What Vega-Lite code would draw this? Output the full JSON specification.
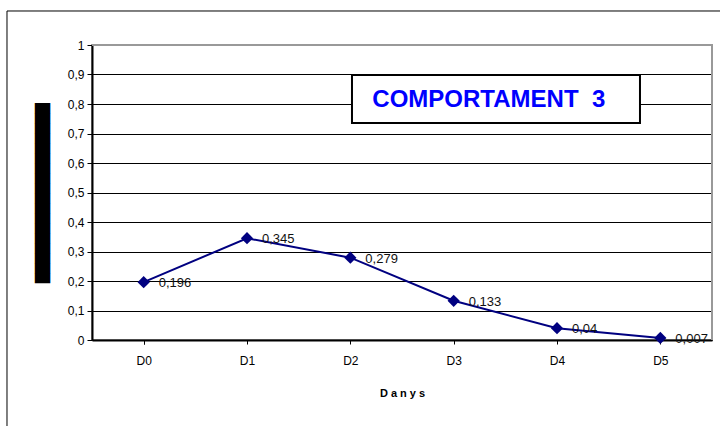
{
  "$schema": "https://vega.github.io/schema/vega-lite/v6.json",
  "width": 620,
  "height": 295,
  "autosize": {"type": "none"},
  "padding": {"left": 92, "top": 45, "right": 8, "bottom": 86},
  "background": "white",
  "config": {
    "view": {"stroke": "#999", "strokeWidth": 2},
    "font": "Liberation Sans",
    "axisY": {
      "tickCount": 10,
      "labelExpr": "replace(format(datum.value, '~g'), '.', ',')",
      "labelFont": "Liberation Sans",
      "labelFontSize": 12,
      "labelColor": "#000",
      "labelPadding": 3,
      "labelOverlap": false,
      "tickSize": 5,
      "tickColor": "#000",
      "domainColor": "#000",
      "domainWidth": 2,
      "grid": true,
      "gridColor": "#000",
      "gridOpacity": 1,
      "gridWidth": 1,
      "titleFont": "DejaVu Sans",
      "titleFontSize": 13,
      "titleFontWeight": "normal",
      "titleColor": "#000",
      "titlePadding": 18
    },
    "axisX": {
      "titleFont": "Liberation Sans",
      "titleFontSize": 11,
      "titleFontWeight": "bold",
      "titleColor": "#000",
      "titlePadding": 21,
      "labelAngle": 0,
      "labelFont": "Liberation Sans",
      "labelFontSize": 12,
      "labelColor": "#000",
      "labelPadding": 11,
      "domainColor": "#000",
      "domainWidth": 2,
      "tickColor": "#000",
      "tickSize": 4,
      "tickBand": "extent",
      "grid": false
    }
  },
  "datasets": {
    "series": [
      {"day": "D0", "value": 0.196, "label": "0,196"},
      {"day": "D1", "value": 0.345, "label": "0,345"},
      {"day": "D2", "value": 0.279, "label": "0,279"},
      {"day": "D3", "value": 0.133, "label": "0,133"},
      {"day": "D4", "value": 0.04, "label": "0,04"},
      {"day": "D5", "value": 0.007, "label": "0,007"}
    ],
    "frame": [
      {"x0": -0.8226, "x1": 6.3, "y0": -0.45, "y1": 1.1153}
    ],
    "border": [
      {"xa": 0, "xb": 6, "ya": 1, "yb": 1},
      {"xa": 6, "xb": 6, "ya": 0, "yb": 1}
    ],
    "titlebox": [
      {"x0": 2.516, "x1": 5.303, "y0": 0.7356, "y1": 0.898, "tx": 3.84, "ty": 0.815, "text": "COMPORTAMENT\u00a0 3"}
    ]
  },
  "layer": [
    {
      "data": {"name": "frame"},
      "mark": {"type": "rect", "fill": null, "stroke": "#000", "strokeWidth": 1, "clip": false},
      "encoding": {
        "x": {"field": "x0", "type": "quantitative", "scale": {"domain": [0, 6], "zero": false, "nice": false}, "axis": null},
        "x2": {"field": "x1"},
        "y": {
          "field": "y0", "type": "quantitative",
          "scale": {"domain": [0, 1], "nice": false, "zero": true},
          "axis": {"title": "██████████████████"}
        },
        "y2": {"field": "y1"}
      }
    },
    {
      "data": {"name": "border"},
      "mark": {"type": "rule", "color": "#999", "strokeWidth": 2},
      "encoding": {
        "x": {"field": "xa", "type": "quantitative", "scale": {"domain": [0, 6], "zero": false, "nice": false}, "axis": null},
        "x2": {"field": "xb"},
        "y": {"field": "ya", "type": "quantitative"},
        "y2": {"field": "yb"}
      }
    },
    {
      "data": {"name": "series"},
      "layer": [
        {
          "mark": {"type": "line", "color": "#000080", "strokeWidth": 2},
          "encoding": {
            "x": {
              "field": "day", "type": "nominal", "sort": null,
              "scale": {"paddingInner": 0, "paddingOuter": 0},
              "axis": {"title": "D a n y s"}
            },
            "y": {"field": "value", "type": "quantitative"}
          }
        },
        {
          "mark": {"type": "point", "shape": "diamond", "filled": true, "size": 150, "color": "#000080", "opacity": 1},
          "encoding": {
            "x": {"field": "day", "type": "nominal", "sort": null},
            "y": {"field": "value", "type": "quantitative"}
          }
        },
        {
          "mark": {"type": "text", "align": "left", "baseline": "middle", "dx": 15, "dy": 1, "fontSize": 13, "font": "Liberation Sans", "color": "#111"},
          "encoding": {
            "x": {"field": "day", "type": "nominal", "sort": null},
            "y": {"field": "value", "type": "quantitative"},
            "text": {"field": "label"}
          }
        }
      ]
    },
    {
      "data": {"name": "titlebox"},
      "layer": [
        {
          "mark": {"type": "rect", "fill": "white", "stroke": "#000", "strokeWidth": 2},
          "encoding": {
            "x": {"field": "x0", "type": "quantitative", "scale": {"domain": [0, 6], "zero": false, "nice": false}, "axis": null},
            "x2": {"field": "x1"},
            "y": {"field": "y0", "type": "quantitative"},
            "y2": {"field": "y1"}
          }
        },
        {
          "mark": {"type": "text", "align": "center", "baseline": "middle", "fontSize": 24, "fontWeight": "bold", "font": "Liberation Sans", "color": "#0000FF"},
          "encoding": {
            "x": {"field": "tx", "type": "quantitative", "scale": {"domain": [0, 6], "zero": false, "nice": false}, "axis": null},
            "y": {"field": "ty", "type": "quantitative"},
            "text": {"field": "text"}
          }
        }
      ]
    }
  ],
  "resolve": {"scale": {"x": "independent"}}
}
